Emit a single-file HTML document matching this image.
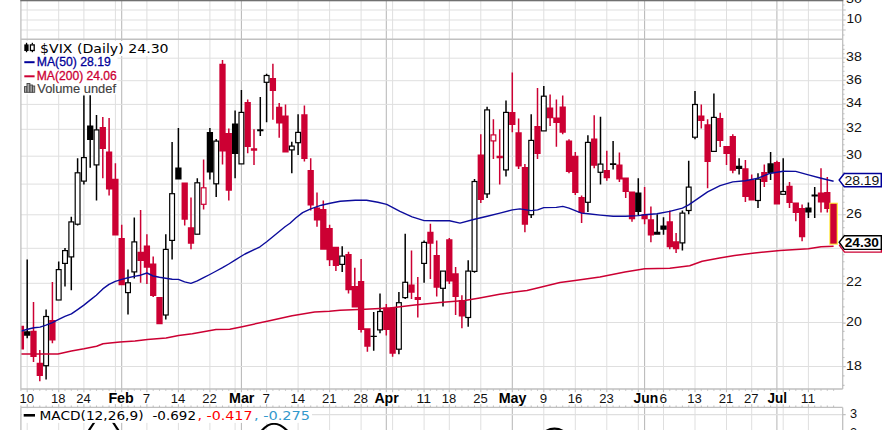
<!DOCTYPE html><html><head><meta charset="utf-8"><title>$VIX</title><style>html,body{margin:0;padding:0;background:#fff}body{width:882px;height:430px;overflow:hidden}</style></head><body><svg width="882" height="430" viewBox="0 0 882 430" style="display:block">
<rect width="882" height="430" fill="#fff"/>
<defs><clipPath id="cp"><rect x="20.9" y="39.3" width="821.8" height="349.7"/></clipPath></defs>
<g fill="none"><path d="M27.2 1V389.0M27.2 407.5V430" stroke="#dfdfdf" stroke-width="1"/><path d="M58.7 1V389.0M58.7 407.5V430" stroke="#dfdfdf" stroke-width="1"/><path d="M83.9 1V389.0M83.9 407.5V430" stroke="#dfdfdf" stroke-width="1"/><path d="M115.4 1V389.0M115.4 407.5V430" stroke="#dfdfdf" stroke-width="1"/><path d="M146.9 1V389.0M146.9 407.5V430" stroke="#dfdfdf" stroke-width="1"/><path d="M178.4 1V389.0M178.4 407.5V430" stroke="#dfdfdf" stroke-width="1"/><path d="M209.9 1V389.0M209.9 407.5V430" stroke="#dfdfdf" stroke-width="1"/><path d="M235.1 1V389.0M235.1 407.5V430" stroke="#dfdfdf" stroke-width="1"/><path d="M266.6 1V389.0M266.6 407.5V430" stroke="#dfdfdf" stroke-width="1"/><path d="M298.1 1V389.0M298.1 407.5V430" stroke="#dfdfdf" stroke-width="1"/><path d="M329.6 1V389.0M329.6 407.5V430" stroke="#dfdfdf" stroke-width="1"/><path d="M361.1 1V389.0M361.1 407.5V430" stroke="#dfdfdf" stroke-width="1"/><path d="M392.6 1V389.0M392.6 407.5V430" stroke="#dfdfdf" stroke-width="1"/><path d="M424.1 1V389.0M424.1 407.5V430" stroke="#dfdfdf" stroke-width="1"/><path d="M449.3 1V389.0M449.3 407.5V430" stroke="#dfdfdf" stroke-width="1"/><path d="M480.8 1V389.0M480.8 407.5V430" stroke="#dfdfdf" stroke-width="1"/><path d="M543.8 1V389.0M543.8 407.5V430" stroke="#dfdfdf" stroke-width="1"/><path d="M575.3 1V389.0M575.3 407.5V430" stroke="#dfdfdf" stroke-width="1"/><path d="M606.8 1V389.0M606.8 407.5V430" stroke="#dfdfdf" stroke-width="1"/><path d="M638.3 1V389.0M638.3 407.5V430" stroke="#dfdfdf" stroke-width="1"/><path d="M663.5 1V389.0M663.5 407.5V430" stroke="#dfdfdf" stroke-width="1"/><path d="M695.0 1V389.0M695.0 407.5V430" stroke="#dfdfdf" stroke-width="1"/><path d="M726.5 1V389.0M726.5 407.5V430" stroke="#dfdfdf" stroke-width="1"/><path d="M751.7 1V389.0M751.7 407.5V430" stroke="#dfdfdf" stroke-width="1"/><path d="M783.2 1V389.0M783.2 407.5V430" stroke="#dfdfdf" stroke-width="1"/><path d="M808.4 1V389.0M808.4 407.5V430" stroke="#dfdfdf" stroke-width="1"/><path d="M121.7 1V389.0M121.7 407.5V430" stroke="#b8b8b8" stroke-width="1.05"/><path d="M241.4 1V389.0M241.4 407.5V430" stroke="#b8b8b8" stroke-width="1.05"/><path d="M386.3 1V389.0M386.3 407.5V430" stroke="#b8b8b8" stroke-width="1.05"/><path d="M512.3 1V389.0M512.3 407.5V430" stroke="#b8b8b8" stroke-width="1.05"/><path d="M644.6 1V389.0M644.6 407.5V430" stroke="#b8b8b8" stroke-width="1.05"/><path d="M776.9 1V389.0M776.9 407.5V430" stroke="#b8b8b8" stroke-width="1.05"/><path d="M20.9 10H842.7" stroke="#dfdfdf" stroke-width="1"/><path d="M20.9 20H842.7" stroke="#dfdfdf" stroke-width="1"/><path d="M20.9 30H842.7" stroke="#dfdfdf" stroke-width="1"/><path d="M20.9 366.5H842.7" stroke="#dfdfdf" stroke-width="1"/><path d="M20.9 322.5H842.7" stroke="#dfdfdf" stroke-width="1"/><path d="M20.9 283.3H842.7" stroke="#dfdfdf" stroke-width="1"/><path d="M20.9 248.3H842.7" stroke="#dfdfdf" stroke-width="1"/><path d="M20.9 214.8H842.7" stroke="#dfdfdf" stroke-width="1"/><path d="M20.9 184.1H842.7" stroke="#dfdfdf" stroke-width="1"/><path d="M20.9 156.2H842.7" stroke="#dfdfdf" stroke-width="1"/><path d="M20.9 129.3H842.7" stroke="#dfdfdf" stroke-width="1"/><path d="M20.9 104.4H842.7" stroke="#dfdfdf" stroke-width="1"/><path d="M20.9 80.7H842.7" stroke="#dfdfdf" stroke-width="1"/><path d="M20.9 58.2H842.7" stroke="#dfdfdf" stroke-width="1"/><path d="M20.9 414.6H842.7" stroke="#dfdfdf" stroke-width="1.1"/></g>
<g fill="none" stroke="#000" stroke-width="2.2" stroke-linecap="round"><path d="M88.5 431 L94.5 422 M112.8 422 L118.8 431"/><path d="M261.5 431 Q273.5 416.5 287.5 431"/><path d="M546 431 Q554.5 426.3 563 431"/></g>
<g clip-path="url(#cp)">
<path d="M20.15 325.80h1.50v23.70h-1.50zM17.75 325.80h6.30v23.70h-6.30zM32.75 301.90h1.50v60.10h-1.50zM30.35 330.80h6.30v26.20h-6.30zM39.05 350.00h1.50v31.30h-1.50zM36.65 362.70h6.30v13.20h-6.30zM51.65 281.90h1.50v61.30h-1.50zM49.25 320.10h6.30v20.30h-6.30zM102.05 117.00h1.50v61.20h-1.50zM99.65 127.00h6.30v22.00h-6.30zM108.35 118.00h1.50v77.60h-1.50zM105.95 151.50h6.30v37.90h-6.30zM114.65 163.20h1.50v72.30h-1.50zM112.25 178.70h6.30v56.80h-6.30zM120.95 224.80h1.50v60.40h-1.50zM118.55 238.00h6.30v47.20h-6.30zM139.85 209.90h1.50v72.80h-1.50zM137.45 251.80h6.30v9.20h-6.30zM146.15 234.30h1.50v49.70h-1.50zM143.75 245.50h6.30v22.20h-6.30zM152.45 256.50h1.50v40.50h-1.50zM150.05 263.50h6.30v32.50h-6.30zM158.75 297.00h1.50v27.30h-1.50zM156.35 297.00h6.30v27.30h-6.30zM183.95 182.40h1.50v43.20h-1.50zM181.55 182.40h6.30v37.40h-6.30zM190.25 197.40h1.50v51.90h-1.50zM187.85 227.30h6.30v16.50h-6.30zM202.85 159.50h1.50v49.90h-1.50zM221.75 60.00h1.50v104.50h-1.50zM219.35 63.70h6.30v87.80h-6.30zM228.05 128.50h1.50v72.10h-1.50zM225.65 133.00h6.30v57.70h-6.30zM246.95 99.40h1.50v53.80h-1.50zM244.55 101.90h6.30v45.10h-6.30zM253.25 129.30h1.50v35.70h-1.50zM250.85 148.20h6.30v2.50h-6.30zM272.15 63.70h1.50v56.10h-1.50zM269.75 77.90h6.30v13.20h-6.30zM278.45 102.90h1.50v34.90h-1.50zM276.05 106.80h6.30v16.80h-6.30zM284.75 104.40h1.50v48.10h-1.50zM282.35 115.60h6.30v36.90h-6.30zM303.65 105.40h1.50v56.10h-1.50zM301.25 114.30h6.30v44.70h-6.30zM309.95 158.20h1.50v52.40h-1.50zM307.55 170.00h6.30v35.60h-6.30zM316.25 192.60h1.50v34.20h-1.50zM313.85 207.60h6.30v13.00h-6.30zM322.55 200.60h1.50v49.20h-1.50zM320.15 208.90h6.30v40.90h-6.30zM328.85 224.80h1.50v41.20h-1.50zM326.45 228.00h6.30v32.20h-6.30zM335.15 246.80h1.50v24.20h-1.50zM332.75 246.80h6.30v19.20h-6.30zM347.75 251.80h1.50v41.60h-1.50zM345.35 254.00h6.30v36.20h-6.30zM354.05 267.70h1.50v39.90h-1.50zM351.65 286.00h6.30v21.60h-6.30zM360.35 259.00h1.50v73.60h-1.50zM357.95 281.00h6.30v49.00h-6.30zM366.65 328.30h1.50v23.50h-1.50zM364.25 328.30h6.30v18.50h-6.30zM385.55 303.90h1.50v31.70h-1.50zM383.15 307.60h6.30v22.40h-6.30zM391.85 307.60h1.50v49.20h-1.50zM389.45 307.60h6.30v46.20h-6.30zM410.75 250.50h1.50v48.50h-1.50zM408.35 284.40h6.30v8.30h-6.30zM417.05 277.00h1.50v40.60h-1.50zM414.65 296.90h6.30v3.10h-6.30zM429.65 223.80h1.50v55.20h-1.50zM427.25 231.80h6.30v12.00h-6.30zM435.95 240.50h1.50v55.90h-1.50zM433.55 255.00h6.30v32.70h-6.30zM448.55 238.00h1.50v46.00h-1.50zM446.15 239.30h6.30v42.10h-6.30zM454.85 267.00h1.50v48.10h-1.50zM452.45 273.20h6.30v23.70h-6.30zM461.15 295.20h1.50v33.10h-1.50zM458.75 300.00h6.30v16.40h-6.30zM480.05 134.30h1.50v68.70h-1.50zM477.65 154.50h6.30v45.50h-6.30zM492.65 119.30h1.50v39.70h-1.50zM498.95 129.30h1.50v55.10h-1.50zM496.55 155.70h6.30v2.50h-6.30zM511.55 72.40h1.50v59.90h-1.50zM509.15 112.00h6.30v13.10h-6.30zM517.85 118.60h1.50v50.40h-1.50zM515.45 132.30h6.30v34.20h-6.30zM524.15 164.00h1.50v68.30h-1.50zM521.75 167.00h6.30v57.80h-6.30zM536.75 87.90h1.50v71.10h-1.50zM534.35 126.00h6.30v28.00h-6.30zM549.35 94.40h1.50v31.60h-1.50zM546.95 107.60h6.30v10.60h-6.30zM555.65 99.40h1.50v47.40h-1.50zM553.25 117.60h6.30v5.30h-6.30zM561.95 95.40h1.50v38.90h-1.50zM559.55 106.60h6.30v26.10h-6.30zM568.25 139.20h1.50v34.00h-1.50zM565.85 140.50h6.30v31.50h-6.30zM574.55 152.00h1.50v43.00h-1.50zM572.15 155.70h6.30v37.30h-6.30zM580.85 195.60h1.50v27.40h-1.50zM578.45 196.90h6.30v16.10h-6.30zM593.45 115.30h1.50v52.90h-1.50zM591.05 138.50h6.30v27.20h-6.30zM606.05 150.70h1.50v30.00h-1.50zM603.65 170.00h6.30v8.20h-6.30zM618.65 152.50h1.50v29.50h-1.50zM616.25 164.50h6.30v14.90h-6.30zM624.95 177.40h1.50v20.60h-1.50zM622.55 177.40h6.30v14.60h-6.30zM631.25 191.40h1.50v30.40h-1.50zM628.85 191.40h6.30v27.90h-6.30zM643.85 187.00h1.50v37.30h-1.50zM641.45 214.30h6.30v5.00h-6.30zM650.15 206.40h1.50v35.90h-1.50zM647.75 219.30h6.30v16.20h-6.30zM669.05 210.60h1.50v38.70h-1.50zM666.65 221.30h6.30v26.00h-6.30zM675.35 233.00h1.50v20.00h-1.50zM672.95 241.30h6.30v8.00h-6.30zM700.55 104.40h1.50v24.10h-1.50zM698.15 115.60h6.30v5.40h-6.30zM706.85 119.30h1.50v68.90h-1.50zM704.45 124.30h6.30v37.70h-6.30zM719.45 112.80h1.50v34.20h-1.50zM717.05 118.00h6.30v23.00h-6.30zM725.75 146.00h1.50v19.00h-1.50zM723.35 146.00h6.30v8.00h-6.30zM732.05 134.30h1.50v38.90h-1.50zM729.65 136.00h6.30v34.70h-6.30zM744.65 160.00h1.50v41.90h-1.50zM742.25 168.20h6.30v28.70h-6.30zM750.95 174.50h1.50v26.10h-1.50zM748.55 180.00h6.30v20.60h-6.30zM763.55 164.50h1.50v22.50h-1.50zM761.15 172.00h6.30v10.00h-6.30zM776.15 160.70h1.50v43.70h-1.50zM773.75 162.00h6.30v42.40h-6.30zM788.75 182.00h1.50v26.00h-1.50zM786.35 185.70h6.30v17.30h-6.30zM795.05 202.40h1.50v18.90h-1.50zM792.65 202.40h6.30v10.60h-6.30zM801.35 204.40h1.50v36.90h-1.50zM798.95 208.00h6.30v29.30h-6.30zM820.25 168.20h1.50v44.20h-1.50zM817.85 192.60h6.30v9.80h-6.30zM826.55 177.00h1.50v35.40h-1.50zM824.15 192.00h6.30v17.00h-6.30zM832.85 203.80h1.50v40.10h-1.50z" fill="#cc0033"/>
<path d="M26.45 259.50h1.50v78.80h-1.50zM24.05 331.30h6.30v4.50h-6.30zM45.35 309.40h1.50v70.20h-1.50zM57.95 261.50h1.50v38.60h-1.50zM64.25 248.00h1.50v38.40h-1.50zM70.55 216.80h1.50v73.40h-1.50zM76.85 158.20h1.50v67.40h-1.50zM83.15 95.50h1.50v88.90h-1.50zM89.45 95.30h1.50v72.50h-1.50zM87.05 125.50h6.30v14.50h-6.30zM95.75 115.00h1.50v85.60h-1.50zM127.25 269.50h1.50v44.90h-1.50zM133.55 217.60h1.50v60.80h-1.50zM165.05 234.30h1.50v85.10h-1.50zM171.35 142.00h1.50v117.50h-1.50zM177.65 128.00h1.50v51.40h-1.50zM175.25 167.50h6.30v11.90h-6.30zM196.55 178.20h1.50v56.10h-1.50zM209.15 128.00h1.50v51.40h-1.50zM206.75 132.00h6.30v40.40h-6.30zM215.45 139.00h1.50v57.90h-1.50zM234.35 110.60h1.50v67.60h-1.50zM231.95 123.50h6.30v30.50h-6.30zM240.65 89.90h1.50v74.10h-1.50zM259.55 96.90h1.50v39.10h-1.50zM257.15 129.30h6.30v2.00h-6.30zM265.85 73.70h1.50v48.60h-1.50zM291.05 141.80h1.50v31.40h-1.50zM297.35 114.30h1.50v40.70h-1.50zM341.45 246.30h1.50v25.70h-1.50zM372.95 311.90h1.50v38.90h-1.50zM370.55 335.80h6.30v1.20h-6.30zM379.25 293.40h1.50v39.90h-1.50zM398.15 292.00h1.50v62.30h-1.50zM404.45 233.80h1.50v65.20h-1.50zM423.35 240.50h1.50v42.20h-1.50zM442.25 271.00h1.50v35.40h-1.50zM467.45 260.20h1.50v66.60h-1.50zM473.75 179.00h1.50v93.70h-1.50zM486.35 106.80h1.50v91.20h-1.50zM505.25 100.40h1.50v76.00h-1.50zM530.45 114.30h1.50v103.70h-1.50zM543.05 86.10h1.50v44.90h-1.50zM587.15 135.30h1.50v76.60h-1.50zM599.75 116.80h1.50v67.60h-1.50zM612.35 141.00h1.50v28.40h-1.50zM609.95 163.20h6.30v1.80h-6.30zM637.55 178.20h1.50v37.40h-1.50zM635.15 192.60h6.30v19.30h-6.30zM656.45 214.30h1.50v20.50h-1.50zM654.05 231.80h6.30v3.00h-6.30zM662.75 217.30h1.50v17.50h-1.50zM660.35 225.60h6.30v4.20h-6.30zM681.65 210.60h1.50v39.90h-1.50zM687.95 160.70h1.50v53.60h-1.50zM694.25 91.10h1.50v48.20h-1.50zM713.15 93.60h1.50v57.90h-1.50zM738.35 158.20h1.50v16.20h-1.50zM735.95 165.70h6.30v3.30h-6.30zM757.25 173.20h1.50v34.80h-1.50zM769.85 152.00h1.50v28.00h-1.50zM767.45 163.20h6.30v10.00h-6.30zM782.45 158.20h1.50v36.20h-1.50zM807.65 202.40h1.50v15.60h-1.50zM805.25 207.40h6.30v5.00h-6.30zM813.95 187.00h1.50v31.00h-1.50zM811.55 194.40h6.30v2.00h-6.30z" fill="#000"/>
<rect x="43.7" y="316.5" width="4.8" height="49.2" fill="#fff" stroke="#000" stroke-width="1.2"/><rect x="56.3" y="269.6" width="4.8" height="30.4" fill="#fff" stroke="#000" stroke-width="1.2"/><rect x="62.6" y="250.6" width="4.8" height="12.8" fill="#fff" stroke="#000" stroke-width="1.2"/><rect x="68.9" y="221.9" width="4.8" height="35.0" fill="#fff" stroke="#000" stroke-width="1.2"/><rect x="75.2" y="172.8" width="4.8" height="51.4" fill="#fff" stroke="#000" stroke-width="1.2"/><rect x="81.5" y="157.6" width="4.8" height="23.5" fill="#fff" stroke="#000" stroke-width="1.2"/><rect x="94.1" y="129.9" width="4.8" height="35.0" fill="#fff" stroke="#000" stroke-width="1.2"/><rect x="125.6" y="282.8" width="4.8" height="9.8" fill="#fff" stroke="#000" stroke-width="1.2"/><rect x="131.9" y="241.9" width="4.8" height="30.0" fill="#fff" stroke="#000" stroke-width="1.2"/><rect x="163.4" y="249.4" width="4.8" height="65.6" fill="#fff" stroke="#000" stroke-width="1.2"/><rect x="169.7" y="193.7" width="4.8" height="46.7" fill="#fff" stroke="#000" stroke-width="1.2"/><rect x="194.9" y="182.8" width="4.8" height="51.4" fill="#fff" stroke="#000" stroke-width="1.2"/><rect x="201.2" y="187.8" width="4.8" height="16.5" fill="#fff" stroke="#cc0033" stroke-width="1.2"/><rect x="213.8" y="141.1" width="4.8" height="42.7" fill="#fff" stroke="#000" stroke-width="1.2"/><rect x="239.0" y="112.4" width="4.8" height="51.5" fill="#fff" stroke="#000" stroke-width="1.2"/><rect x="264.2" y="75.5" width="4.8" height="6.8" fill="#fff" stroke="#000" stroke-width="1.2"/><rect x="289.4" y="146.1" width="4.8" height="3.8" fill="#fff" stroke="#000" stroke-width="1.2"/><rect x="295.7" y="132.4" width="4.8" height="10.3" fill="#fff" stroke="#000" stroke-width="1.2"/><rect x="339.8" y="256.1" width="4.8" height="8.3" fill="#fff" stroke="#000" stroke-width="1.2"/><rect x="377.6" y="311.5" width="4.8" height="18.4" fill="#fff" stroke="#000" stroke-width="1.2"/><rect x="396.5" y="302.7" width="4.8" height="46.5" fill="#fff" stroke="#000" stroke-width="1.2"/><rect x="402.8" y="282.3" width="4.8" height="15.3" fill="#fff" stroke="#000" stroke-width="1.2"/><rect x="421.7" y="242.4" width="4.8" height="21.0" fill="#fff" stroke="#000" stroke-width="1.2"/><rect x="440.6" y="271.1" width="4.8" height="17.2" fill="#fff" stroke="#000" stroke-width="1.2"/><rect x="465.8" y="271.1" width="4.8" height="46.4" fill="#fff" stroke="#000" stroke-width="1.2"/><rect x="472.1" y="181.5" width="4.8" height="89.9" fill="#fff" stroke="#000" stroke-width="1.2"/><rect x="484.7" y="109.9" width="4.8" height="84.0" fill="#fff" stroke="#000" stroke-width="1.2"/><rect x="491.0" y="134.9" width="4.8" height="6.0" fill="#fff" stroke="#cc0033" stroke-width="1.2"/><rect x="503.6" y="112.4" width="4.8" height="57.5" fill="#fff" stroke="#000" stroke-width="1.2"/><rect x="528.8" y="140.4" width="4.8" height="74.3" fill="#fff" stroke="#000" stroke-width="1.2"/><rect x="541.4" y="96.2" width="4.8" height="34.7" fill="#fff" stroke="#000" stroke-width="1.2"/><rect x="585.5" y="142.4" width="4.8" height="59.9" fill="#fff" stroke="#000" stroke-width="1.2"/><rect x="598.1" y="164.1" width="4.8" height="8.2" fill="#fff" stroke="#000" stroke-width="1.2"/><rect x="680.0" y="213.1" width="4.8" height="29.8" fill="#fff" stroke="#000" stroke-width="1.2"/><rect x="686.3" y="187.1" width="4.8" height="23.4" fill="#fff" stroke="#000" stroke-width="1.2"/><rect x="692.6" y="104.5" width="4.8" height="32.7" fill="#fff" stroke="#000" stroke-width="1.2"/><rect x="711.5" y="117.4" width="4.8" height="34.0" fill="#fff" stroke="#000" stroke-width="1.2"/><rect x="755.6" y="179.1" width="4.8" height="21.4" fill="#fff" stroke="#000" stroke-width="1.2"/><rect x="780.8" y="191.5" width="4.8" height="2.8" fill="#fff" stroke="#000" stroke-width="1.2"/><rect x="829.3" y="202.7" width="8.6" height="42" fill="#ffe83a"/><rect x="830.3" y="203.8" width="6.4" height="39.8" fill="#cc0033"/>
<polyline fill="none" stroke="#cc0033" stroke-width="1.5" stroke-linejoin="round" points="20.5,354.0 58.0,354.0 71.4,351.0 84.0,348.8 96.6,346.3 103.0,343.7 110.0,342.9 120.0,341.9 135.0,341.1 147.4,339.4 166.1,338.1 178.6,335.4 192.3,333.7 216.0,329.4 229.8,329.2 242.2,326.7 267.2,321.2 292.1,315.7 314.6,312.0 329.5,311.2 340.0,310.3 365.0,309.2 389.9,307.9 414.8,304.9 439.8,302.4 464.7,300.4 479.7,297.9 499.6,294.2 514.6,292.0 527.0,290.5 539.5,287.5 560.0,282.5 575.0,280.6 599.9,276.9 624.9,271.9 644.8,268.7 669.8,268.2 689.7,265.7 702.2,261.2 719.6,257.9 734.6,255.5 754.6,253.0 780.0,250.5 808.4,248.7 821.1,246.7 833.6,246.2"/>
<polyline fill="none" stroke="#0c0c9c" stroke-width="1.4" stroke-linejoin="round" points="20.5,331.2 27.5,329.3 34.0,327.8 40.0,327.1 46.0,325.1 52.4,322.6 58.7,319.4 64.9,316.4 71.4,313.9 77.6,309.6 83.9,305.1 90.1,300.1 96.3,295.2 102.8,288.9 109.0,284.4 115.3,281.4 121.8,279.4 128.0,277.7 134.2,276.4 140.5,275.2 147.0,273.0 153.2,276.0 159.4,277.2 165.7,278.2 172.2,279.2 178.4,279.4 184.6,281.9 190.9,283.4 197.3,280.9 203.6,277.7 209.8,274.5 216.3,271.0 222.5,267.7 228.8,264.0 235.0,260.2 240.0,257.0 245.0,254.0 260.0,246.8 266.7,241.8 279.2,231.5 285.0,226.8 290.0,223.3 296.0,217.8 302.6,212.6 310.7,208.8 321.4,205.2 330.0,203.2 340.2,201.3 355.3,200.3 366.6,200.3 377.9,202.3 386.7,204.4 400.0,211.3 412.1,216.8 424.1,220.6 437.0,220.8 449.5,220.8 460.0,223.1 474.5,219.3 487.2,216.3 499.9,213.1 512.4,209.9 519.9,208.9 531.1,210.6 537.6,209.9 543.8,207.6 556.3,207.4 562.8,206.4 569.0,208.1 575.2,210.6 581.5,213.1 588.0,213.8 600.4,215.1 613.2,216.3 625.6,216.3 638.3,215.6 644.6,214.8 657.0,213.8 669.8,211.4 682.4,208.1 688.7,204.9 694.9,200.6 707.6,191.9 720.1,185.7 732.8,181.9 745.3,180.7 758.0,178.2 770.5,173.2 783.2,171.2 795.7,171.4 808.4,174.9 821.1,178.2 833.6,181.2"/>
</g>
<path d="M20.9 0V389.0M842.7 0V389.0M20.9 407.4V430M842.7 407.4V430" stroke="#c0c0c0" stroke-width="1.3" fill="none"/>
<path d="M20.9 39.3H842.7" stroke="#c0c0c0" stroke-width="1.6"/>
<path d="M20.9 389.0H842.7M20.9 407.4H842.7" stroke="#c0c0c0" stroke-width="1.3"/>
<rect x="20.299999999999997" y="0" width="823.0000000000001" height="1.3" fill="#707070"/>
<path d="M842.7 385.4h1.8M842.7 375.9h1.8M842.7 366.6h3M842.7 357.5h1.8M842.7 348.6h1.8M842.7 339.9h1.8M842.7 331.4h1.8M842.7 323.1h3M842.7 314.9h1.8M842.7 306.9h1.8M842.7 299.0h1.8M842.7 291.3h1.8M842.7 283.7h3M842.7 276.3h1.8M842.7 269.0h1.8M842.7 261.8h1.8M842.7 254.7h1.8M842.7 247.8h3M842.7 241.0h1.8M842.7 234.2h1.8M842.7 227.6h1.8M842.7 221.1h1.8M842.7 214.7h3M842.7 208.4h1.8M842.7 202.2h1.8M842.7 196.1h1.8M842.7 190.1h1.8M842.7 184.1h3M842.7 178.3h1.8M842.7 172.5h1.8M842.7 166.8h1.8M842.7 161.2h1.8M842.7 155.6h3M842.7 150.2h1.8M842.7 144.8h1.8M842.7 139.4h1.8M842.7 134.2h1.8M842.7 129.0h3M842.7 123.8h1.8M842.7 118.8h1.8M842.7 113.8h1.8M842.7 108.8h1.8M842.7 103.9h3M842.7 99.1h1.8M842.7 94.3h1.8M842.7 89.6h1.8M842.7 84.9h1.8M842.7 80.3h3M842.7 75.8h1.8M842.7 71.3h1.8M842.7 66.8h1.8M842.7 62.4h1.8M842.7 58.0h3M842.7 53.7h1.8M842.7 49.4h1.8M842.7 45.2h1.8M842.7 5h1.8M842.7 10h3M842.7 15h1.8M842.7 20h3M842.7 25h1.8M842.7 30h3M842.7 35h1.8M842.7 414.6h3M20.9 389.0v1.8M20.9 407.4v-1.8M27.2 389.0v3.2M27.2 407.4v-3.2M33.5 389.0v1.8M33.5 407.4v-1.8M39.8 389.0v1.8M39.8 407.4v-1.8M46.1 389.0v1.8M46.1 407.4v-1.8M52.4 389.0v1.8M52.4 407.4v-1.8M58.7 389.0v3.2M58.7 407.4v-3.2M65.0 389.0v1.8M65.0 407.4v-1.8M71.3 389.0v1.8M71.3 407.4v-1.8M77.6 389.0v1.8M77.6 407.4v-1.8M83.9 389.0v3.2M83.9 407.4v-3.2M90.2 389.0v1.8M90.2 407.4v-1.8M96.5 389.0v1.8M96.5 407.4v-1.8M102.8 389.0v1.8M102.8 407.4v-1.8M109.1 389.0v1.8M109.1 407.4v-1.8M115.4 389.0v3.2M115.4 407.4v-3.2M121.7 389.0v3.2M121.7 407.4v-3.2M128.0 389.0v1.8M128.0 407.4v-1.8M134.3 389.0v1.8M134.3 407.4v-1.8M140.6 389.0v1.8M140.6 407.4v-1.8M146.9 389.0v3.2M146.9 407.4v-3.2M153.2 389.0v1.8M153.2 407.4v-1.8M159.5 389.0v1.8M159.5 407.4v-1.8M165.8 389.0v1.8M165.8 407.4v-1.8M172.1 389.0v1.8M172.1 407.4v-1.8M178.4 389.0v3.2M178.4 407.4v-3.2M184.7 389.0v1.8M184.7 407.4v-1.8M191.0 389.0v1.8M191.0 407.4v-1.8M197.3 389.0v1.8M197.3 407.4v-1.8M203.6 389.0v1.8M203.6 407.4v-1.8M209.9 389.0v3.2M209.9 407.4v-3.2M216.2 389.0v1.8M216.2 407.4v-1.8M222.5 389.0v1.8M222.5 407.4v-1.8M228.8 389.0v1.8M228.8 407.4v-1.8M235.1 389.0v3.2M235.1 407.4v-3.2M241.4 389.0v3.2M241.4 407.4v-3.2M247.7 389.0v1.8M247.7 407.4v-1.8M254.0 389.0v1.8M254.0 407.4v-1.8M260.3 389.0v1.8M260.3 407.4v-1.8M266.6 389.0v3.2M266.6 407.4v-3.2M272.9 389.0v1.8M272.9 407.4v-1.8M279.2 389.0v1.8M279.2 407.4v-1.8M285.5 389.0v1.8M285.5 407.4v-1.8M291.8 389.0v1.8M291.8 407.4v-1.8M298.1 389.0v3.2M298.1 407.4v-3.2M304.4 389.0v1.8M304.4 407.4v-1.8M310.7 389.0v1.8M310.7 407.4v-1.8M317.0 389.0v1.8M317.0 407.4v-1.8M323.3 389.0v1.8M323.3 407.4v-1.8M329.6 389.0v3.2M329.6 407.4v-3.2M335.9 389.0v1.8M335.9 407.4v-1.8M342.2 389.0v1.8M342.2 407.4v-1.8M348.5 389.0v1.8M348.5 407.4v-1.8M354.8 389.0v1.8M354.8 407.4v-1.8M361.1 389.0v3.2M361.1 407.4v-3.2M367.4 389.0v1.8M367.4 407.4v-1.8M373.7 389.0v1.8M373.7 407.4v-1.8M380.0 389.0v1.8M380.0 407.4v-1.8M386.3 389.0v3.2M386.3 407.4v-3.2M392.6 389.0v3.2M392.6 407.4v-3.2M398.9 389.0v1.8M398.9 407.4v-1.8M405.2 389.0v1.8M405.2 407.4v-1.8M411.5 389.0v1.8M411.5 407.4v-1.8M417.8 389.0v1.8M417.8 407.4v-1.8M424.1 389.0v3.2M424.1 407.4v-3.2M430.4 389.0v1.8M430.4 407.4v-1.8M436.7 389.0v1.8M436.7 407.4v-1.8M443.0 389.0v1.8M443.0 407.4v-1.8M449.3 389.0v3.2M449.3 407.4v-3.2M455.6 389.0v1.8M455.6 407.4v-1.8M461.9 389.0v1.8M461.9 407.4v-1.8M468.2 389.0v1.8M468.2 407.4v-1.8M474.5 389.0v1.8M474.5 407.4v-1.8M480.8 389.0v3.2M480.8 407.4v-3.2M487.1 389.0v1.8M487.1 407.4v-1.8M493.4 389.0v1.8M493.4 407.4v-1.8M499.7 389.0v1.8M499.7 407.4v-1.8M506.0 389.0v1.8M506.0 407.4v-1.8M512.3 389.0v3.2M512.3 407.4v-3.2M518.6 389.0v1.8M518.6 407.4v-1.8M524.9 389.0v1.8M524.9 407.4v-1.8M531.2 389.0v1.8M531.2 407.4v-1.8M537.5 389.0v1.8M537.5 407.4v-1.8M543.8 389.0v3.2M543.8 407.4v-3.2M550.1 389.0v1.8M550.1 407.4v-1.8M556.4 389.0v1.8M556.4 407.4v-1.8M562.7 389.0v1.8M562.7 407.4v-1.8M569.0 389.0v1.8M569.0 407.4v-1.8M575.3 389.0v3.2M575.3 407.4v-3.2M581.6 389.0v1.8M581.6 407.4v-1.8M587.9 389.0v1.8M587.9 407.4v-1.8M594.2 389.0v1.8M594.2 407.4v-1.8M600.5 389.0v1.8M600.5 407.4v-1.8M606.8 389.0v3.2M606.8 407.4v-3.2M613.1 389.0v1.8M613.1 407.4v-1.8M619.4 389.0v1.8M619.4 407.4v-1.8M625.7 389.0v1.8M625.7 407.4v-1.8M632.0 389.0v1.8M632.0 407.4v-1.8M638.3 389.0v3.2M638.3 407.4v-3.2M644.6 389.0v3.2M644.6 407.4v-3.2M650.9 389.0v1.8M650.9 407.4v-1.8M657.2 389.0v1.8M657.2 407.4v-1.8M663.5 389.0v3.2M663.5 407.4v-3.2M669.8 389.0v1.8M669.8 407.4v-1.8M676.1 389.0v1.8M676.1 407.4v-1.8M682.4 389.0v1.8M682.4 407.4v-1.8M688.7 389.0v1.8M688.7 407.4v-1.8M695.0 389.0v3.2M695.0 407.4v-3.2M701.3 389.0v1.8M701.3 407.4v-1.8M707.6 389.0v1.8M707.6 407.4v-1.8M713.9 389.0v1.8M713.9 407.4v-1.8M720.2 389.0v1.8M720.2 407.4v-1.8M726.5 389.0v3.2M726.5 407.4v-3.2M732.8 389.0v1.8M732.8 407.4v-1.8M739.1 389.0v1.8M739.1 407.4v-1.8M745.4 389.0v1.8M745.4 407.4v-1.8M751.7 389.0v3.2M751.7 407.4v-3.2M758.0 389.0v1.8M758.0 407.4v-1.8M764.3 389.0v1.8M764.3 407.4v-1.8M770.6 389.0v1.8M770.6 407.4v-1.8M776.9 389.0v3.2M776.9 407.4v-3.2M783.2 389.0v3.2M783.2 407.4v-3.2M789.5 389.0v1.8M789.5 407.4v-1.8M795.8 389.0v1.8M795.8 407.4v-1.8M802.1 389.0v1.8M802.1 407.4v-1.8M808.4 389.0v3.2M808.4 407.4v-3.2M814.7 389.0v1.8M814.7 407.4v-1.8M821.0 389.0v1.8M821.0 407.4v-1.8M827.3 389.0v1.8M827.3 407.4v-1.8M833.6 389.0v1.8M833.6 407.4v-1.8" stroke="#c0c0c0" stroke-width="1.1" fill="none"/>
<g font-family="Liberation Sans, Arial, sans-serif" font-size="12.7" fill="#111">
<text x="846" y="61.2" textLength="15.8" lengthAdjust="spacingAndGlyphs">38</text>
<text x="846" y="83.7" textLength="15.8" lengthAdjust="spacingAndGlyphs">36</text>
<text x="846" y="107.4" textLength="15.8" lengthAdjust="spacingAndGlyphs">34</text>
<text x="846" y="132.3" textLength="15.8" lengthAdjust="spacingAndGlyphs">32</text>
<text x="846" y="159.2" textLength="15.8" lengthAdjust="spacingAndGlyphs">30</text>
<text x="846" y="217.8" textLength="15.8" lengthAdjust="spacingAndGlyphs">26</text>
<text x="846" y="286.3" textLength="15.8" lengthAdjust="spacingAndGlyphs">22</text>
<text x="846" y="325.5" textLength="15.8" lengthAdjust="spacingAndGlyphs">20</text>
<text x="846" y="369.5" textLength="15.8" lengthAdjust="spacingAndGlyphs">18</text>
<text x="846.6" y="23.4" textLength="15.2" lengthAdjust="spacingAndGlyphs">10</text>
<text x="846" y="2.5" textLength="15.8" lengthAdjust="spacingAndGlyphs">30</text>
<text x="850" y="417.8">3</text>
<text x="850" y="437.4">2</text>
<text x="19.4" y="402.9" textLength="14.5" lengthAdjust="spacingAndGlyphs">10</text>
<text x="58.3" y="402.9" text-anchor="middle" textLength="14.5" lengthAdjust="spacingAndGlyphs">18</text>
<text x="83.5" y="402.9" text-anchor="middle" textLength="14.5" lengthAdjust="spacingAndGlyphs">24</text>
<text x="146.5" y="402.9" text-anchor="middle" textLength="7.4" lengthAdjust="spacingAndGlyphs">7</text>
<text x="178.0" y="402.9" text-anchor="middle" textLength="14.5" lengthAdjust="spacingAndGlyphs">14</text>
<text x="209.5" y="402.9" text-anchor="middle" textLength="14.5" lengthAdjust="spacingAndGlyphs">22</text>
<text x="266.2" y="402.9" text-anchor="middle" textLength="7.4" lengthAdjust="spacingAndGlyphs">7</text>
<text x="297.7" y="402.9" text-anchor="middle" textLength="14.5" lengthAdjust="spacingAndGlyphs">14</text>
<text x="329.2" y="402.9" text-anchor="middle" textLength="14.5" lengthAdjust="spacingAndGlyphs">21</text>
<text x="360.7" y="402.9" text-anchor="middle" textLength="14.5" lengthAdjust="spacingAndGlyphs">28</text>
<text x="423.7" y="402.9" text-anchor="middle" textLength="14.5" lengthAdjust="spacingAndGlyphs">11</text>
<text x="448.9" y="402.9" text-anchor="middle" textLength="14.5" lengthAdjust="spacingAndGlyphs">18</text>
<text x="480.4" y="402.9" text-anchor="middle" textLength="14.5" lengthAdjust="spacingAndGlyphs">25</text>
<text x="543.4" y="402.9" text-anchor="middle" textLength="7.4" lengthAdjust="spacingAndGlyphs">9</text>
<text x="574.9" y="402.9" text-anchor="middle" textLength="14.5" lengthAdjust="spacingAndGlyphs">16</text>
<text x="606.4" y="402.9" text-anchor="middle" textLength="14.5" lengthAdjust="spacingAndGlyphs">23</text>
<text x="694.6" y="402.9" text-anchor="middle" textLength="14.5" lengthAdjust="spacingAndGlyphs">13</text>
<text x="726.1" y="402.9" text-anchor="middle" textLength="14.5" lengthAdjust="spacingAndGlyphs">21</text>
<text x="751.3" y="402.9" text-anchor="middle" textLength="14.5" lengthAdjust="spacingAndGlyphs">27</text>
<text x="808.0" y="402.9" text-anchor="middle" textLength="14.5" lengthAdjust="spacingAndGlyphs">11</text>
<text x="659.6" y="402.9" textLength="7.6" lengthAdjust="spacingAndGlyphs">6</text>
</g>
<g font-family="Liberation Sans, Arial, sans-serif" font-size="13.8" font-weight="bold" fill="#000" text-anchor="middle">
<text x="121.1" y="402.9" textLength="25.4" lengthAdjust="spacingAndGlyphs">Feb</text>
<text x="241.7" y="402.9" textLength="25.4" lengthAdjust="spacingAndGlyphs">Mar</text>
<text x="386.6" y="402.9" textLength="24.4" lengthAdjust="spacingAndGlyphs">Apr</text>
<text x="512.6" y="402.9" textLength="27.8" lengthAdjust="spacingAndGlyphs">May</text>
<text x="645.8" y="402.9" textLength="24.6" lengthAdjust="spacingAndGlyphs">Jun</text>
<text x="777.2" y="402.9" textLength="19.5" lengthAdjust="spacingAndGlyphs">Jul</text>
</g>
<path d="M844.6 239.2H881.4V252.1H844.6L839.6 245.6Z" fill="#fff" stroke="#cc0033" stroke-width="1.4"/>
<path d="M844.3 173.5H881.3V186.7H844.3L839.2 180.1Z" fill="#fff" stroke="#000099" stroke-width="1.5"/>
<text x="844.4" y="184.6" font-family="Liberation Sans, Arial, sans-serif" font-size="12.4" fill="#111" textLength="35" lengthAdjust="spacingAndGlyphs">28.19</text>
<path d="M844.3 235.7H881.3V249.4H844.3L839.2 242.2Z" fill="#fff" stroke="#000" stroke-width="1.4"/>
<text x="844.7" y="247.2" font-family="Liberation Sans, Arial, sans-serif" font-size="12.7" font-weight="bold" fill="#000" textLength="34.3" lengthAdjust="spacingAndGlyphs">24.30</text>
<rect x="22" y="41" width="148" height="15" fill="#fff"/><rect x="22" y="55" width="95.5" height="39.4" fill="#fff"/>
<rect x="22" y="408.5" width="290" height="14.4" fill="#fff"/>
<g fill="#000"><rect x="24.3" y="44.4" width="4.3" height="6.6"/><rect x="25.9" y="42.8" width="1.3" height="9.4"/><rect x="30.4" y="44.9" width="3.8" height="5.6" fill="#fff" stroke="#000" stroke-width="1.3"/><rect x="31.7" y="42.8" width="1.3" height="1.6"/><rect x="31.7" y="51" width="1.3" height="1.2"/></g>
<text x="40" y="52.9" font-family="DejaVu Sans, Verdana, sans-serif" font-size="12" fill="#000" textLength="128.6" lengthAdjust="spacingAndGlyphs">$VIX (Daily) 24.30</text>
<path d="M24.3 62.2H34.6" stroke="#000099" stroke-width="2"/>
<text x="36.8" y="65.8" font-family="Liberation Sans, Arial, sans-serif" font-size="12.6" fill="#000099" stroke="#000099" stroke-width="0.3" textLength="74" lengthAdjust="spacingAndGlyphs">MA(50) 28.19</text>
<path d="M24.3 76.3H34.6" stroke="#cc0033" stroke-width="2"/>
<text x="36.8" y="80.1" font-family="Liberation Sans, Arial, sans-serif" font-size="12.6" fill="#cc0033" stroke="#cc0033" stroke-width="0.3" textLength="80" lengthAdjust="spacingAndGlyphs">MA(200) 24.06</text>
<g fill="#a8a8a8" stroke="#444" stroke-width="0.9"><rect x="24.5" y="86.6" width="2.5" height="5.7"/><rect x="27" y="83.5" width="2.9" height="8.8"/><rect x="29.9" y="85" width="2.5" height="7.3"/><rect x="32.4" y="86" width="2.3" height="6.3"/></g>
<text x="37.3" y="92.6" font-family="Liberation Sans, Arial, sans-serif" font-size="12.8" fill="#404040" stroke="#404040" stroke-width="0.15" textLength="78.7" lengthAdjust="spacingAndGlyphs">Volume undef</text>
<path d="M23.7 415.3H35" stroke="#000" stroke-width="2.6"/>
<text x="39.5" y="419.8" font-family="DejaVu Sans, Verdana, sans-serif" font-size="12" fill="#000" textLength="104" lengthAdjust="spacingAndGlyphs">MACD(12,26,9)</text>
<text x="152.5" y="419.8" font-family="DejaVu Sans, Verdana, sans-serif" font-size="12" fill="#000" textLength="43.5" lengthAdjust="spacingAndGlyphs">-0.692</text>
<text x="197.5" y="419.8" font-family="DejaVu Sans, Verdana, sans-serif" font-size="12" fill="#ff0000" textLength="55" lengthAdjust="spacingAndGlyphs">, -0.417</text>
<text x="254" y="419.8" font-family="DejaVu Sans, Verdana, sans-serif" font-size="12" fill="#3399cc" textLength="56" lengthAdjust="spacingAndGlyphs">, -0.275</text>
</svg></body></html>
